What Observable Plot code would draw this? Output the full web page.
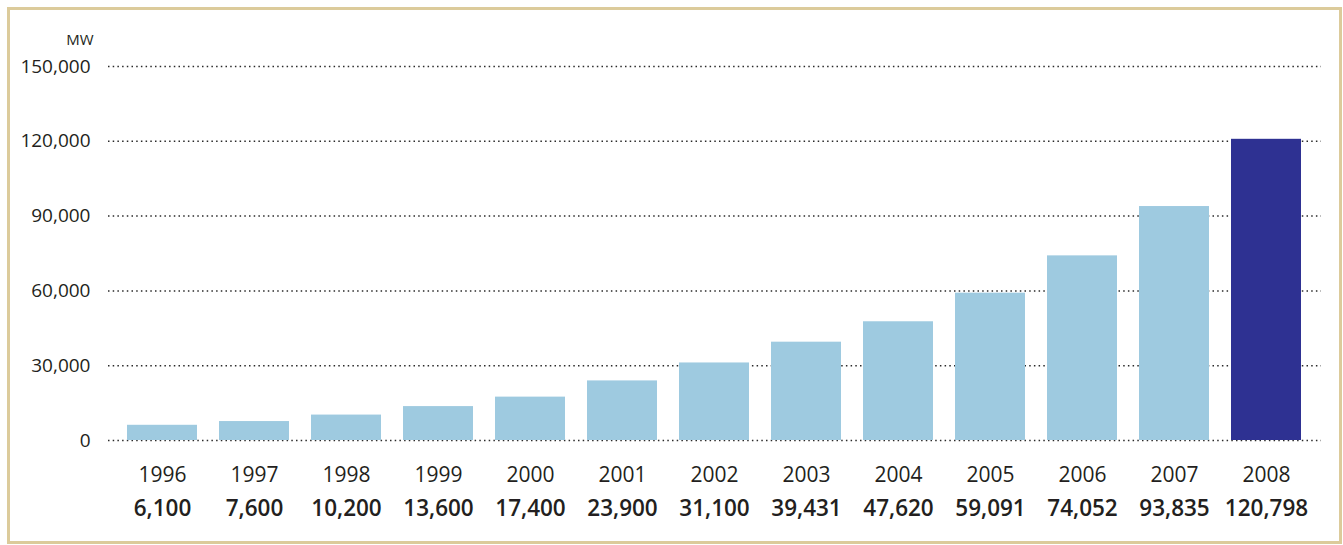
<!DOCTYPE html>
<html>
<head>
<meta charset="utf-8">
<script src="https://cdn.jsdelivr.net/npm/d3@7"></script>
<script src="https://cdn.jsdelivr.net/npm/@observablehq/plot@0.6"></script>
<style>
  html, body { margin: 0; padding: 0; background: #fff; }
  #wrap { position: relative; width: 1343px; height: 545px; overflow: hidden; }
  #border { position: absolute; left: 7px; top: 7px; width: 1335px; height: 537px; box-sizing: border-box; border: 3px solid #dccb9b; pointer-events: none; }
  #chart svg { display: block; }
</style>
</head>
<body>
<div id="wrap"><div id="chart"></div><div id="border"></div></div>
<script>
const years = ["1996","1997","1998","1999","2000","2001","2002","2003","2004","2005","2006","2007","2008"];
const values = [6100, 7600, 10200, 13600, 17400, 23900, 31100, 39431, 47620, 59091, 74052, 93835, 120798];
const highlightYear = "2008";
const yTicks = [0, 30000, 60000, 90000, 120000, 150000];
const unitLabel = "MW";

const data = years.map((y, i) => ({year: y, value: values[i]}));
const fmt = d3.format(",");
const font = "'Open Sans', 'Noto Sans', sans-serif";

const chart = Plot.plot({
  width: 1343,
  height: 545,
  marginLeft: 108,
  marginRight: 22,
  marginTop: 66,
  marginBottom: 105,
  style: {fontFamily: font, color: "#231f20", background: "transparent"},
  x: {domain: years, paddingInner: 0.239, paddingOuter: 0.21, axis: null},
  y: {domain: [0, 150000], axis: null},
  color: {domain: [false, true], range: ["#9ecae0", "#2e3192"]},
  marks: [
    Plot.gridY(yTicks, {stroke: "#2a2a2a", strokeOpacity: 1, strokeWidth: 1.5, strokeDasharray: "1.5,3.2"}),
    Plot.barY(data, {x: "year", y: "value", fill: d => d.year === highlightYear}),
    Plot.axisY(yTicks, {tickSize: 0, tickPadding: 18, tickFormat: fmt, fontSize: 19, label: null, fill: "#231f20"}),
    Plot.text([unitLabel], {frameAnchor: "top-left", dx: -15, dy: -26, textAnchor: "end", lineAnchor: "middle", fontSize: 15, fill: "#231f20"}),
    Plot.text(data, {x: "year", text: "year", frameAnchor: "bottom", dy: 35, lineAnchor: "middle", fontSize: 21, fill: "#231f20"}),
    Plot.text(data, {x: "year", text: d => fmt(d.value), frameAnchor: "bottom", dy: 68, lineAnchor: "middle", fontSize: 22.5, fontWeight: 600, fill: "#231f20"})
  ]
});
document.getElementById("chart").appendChild(chart);
</script>
</body>
</html>
